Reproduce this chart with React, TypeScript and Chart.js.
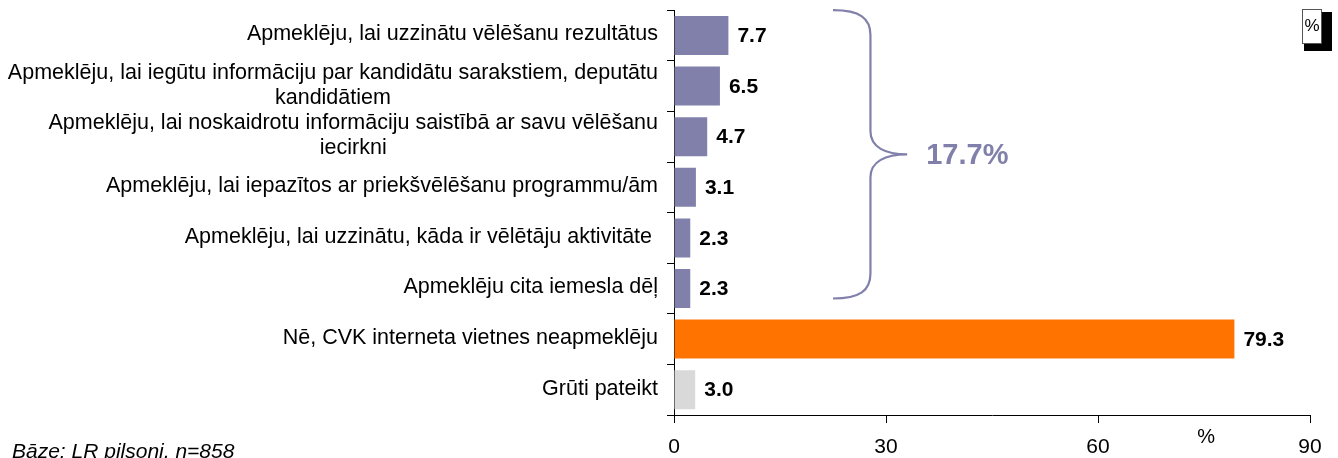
import React, { useEffect, useRef } from "react";
import { Chart, registerables } from "chart.js";

Chart.register(...registerables);

const categories: string[][] = [
  ["Apmeklēju, lai uzzinātu vēlēšanu rezultātus"],
  ["Apmeklēju, lai iegūtu informāciju par kandidātu sarakstiem, deputātu", "kandidātiem"],
  ["Apmeklēju, lai noskaidrotu informāciju saistībā ar savu vēlēšanu", "iecirkni"],
  ["Apmeklēju, lai iepazītos ar priekšvēlēšanu programmu/ām"],
  ["Apmeklēju, lai uzzinātu, kāda ir vēlētāju aktivitāte "],
  ["Apmeklēju cita iemesla dēļ"],
  ["Nē, CVK interneta vietnes neapmeklēju"],
  ["Grūti pateikt"],
];
const values: number[] = [7.7, 6.5, 4.7, 3.1, 2.3, 2.3, 79.3, 3.0];
const barColors: string[] = [
  "#8080ab", "#8080ab", "#8080ab", "#8080ab", "#8080ab", "#8080ab", "#ff7300", "#d9d9d9",
];
const xMin = 0;
const xMax = 90;
const xStep = 30;
const groupLabel = "17.7%";
const groupLast = 5;
const axisUnit = "%";
const baseNote = "Bāze: LR pilsoņi, n=858";

const FONT = "'Liberation Sans', Arial, Helvetica, sans-serif";
const PURPLE = "#8080ab";

const overlayPlugin = {
  id: "overlay",
  afterDatasetsDraw(chart: any) {
    const ctx = chart.ctx as CanvasRenderingContext2D;
    const xs = chart.scales.x;
    const ys = chart.scales.y;
    const area = chart.chartArea;
    ctx.save();
    // value labels
    const meta = chart.getDatasetMeta(0);
    ctx.font = `bold 21px ${FONT}`;
    ctx.fillStyle = "#000";
    ctx.textAlign = "left";
    ctx.textBaseline = "middle";
    meta.data.forEach((bar: any, i: number) => {
      ctx.fillText(values[i].toFixed(1), bar.x + 9, bar.y + 1);
    });
    // category labels (block right-aligned, lines centered)
    ctx.font = `21.5px ${FONT}`;
    ctx.textAlign = "center";
    const right = area.left - 16;
    const lh = 25;
    categories.forEach((lines, i) => {
      const cy = ys.getPixelForValue(i) - 1;
      const maxW = Math.max(...lines.map((l) => ctx.measureText(l).width));
      const cx = right - maxW / 2;
      const y0 = cy - ((lines.length - 1) * lh) / 2;
      lines.forEach((l, j) => ctx.fillText(l, cx, y0 + j * lh));
    });
    // brace
    const top = area.top;
    const bot = ys.getPixelForValue(groupLast) + 10;
    const mid = (top + bot) / 2;
    const xa = xs.getPixelForValue(22.5);
    const xb = xs.getPixelForValue(27.8);
    const xc = xs.getPixelForValue(33.0);
    ctx.strokeStyle = PURPLE;
    ctx.lineWidth = 2.2;
    ctx.beginPath();
    ctx.moveTo(xa, top);
    ctx.bezierCurveTo(xa + 27, top, xb, top + 8, xb, top + 25);
    ctx.lineTo(xb, mid - 23);
    ctx.bezierCurveTo(xb, mid - 7, xb + 15, mid, xc, mid);
    ctx.bezierCurveTo(xb + 15, mid, xb, mid + 7, xb, mid + 23);
    ctx.lineTo(xb, bot - 25);
    ctx.bezierCurveTo(xb, bot - 8, xa + 27, bot, xa, bot);
    ctx.stroke();
    ctx.font = `bold 29px ${FONT}`;
    ctx.fillStyle = PURPLE;
    ctx.textAlign = "left";
    ctx.textBaseline = "middle";
    ctx.fillText(groupLabel, xc + 19, mid + 2);
    // axis unit
    ctx.font = `20px ${FONT}`;
    ctx.fillStyle = "#000";
    ctx.textAlign = "center";
    ctx.fillText(axisUnit, xs.getPixelForValue(75.3), area.bottom + 22);
    // base note
    ctx.font = `italic 21px ${FONT}`;
    ctx.textAlign = "left";
    ctx.textBaseline = "alphabetic";
    ctx.fillText(baseNote, 12, chart.height);
    // % box top-right
    ctx.fillStyle = "#000";
    ctx.fillRect(1304, 12, 28, 39);
    ctx.fillStyle = "#fff";
    ctx.fillRect(1302, 9, 20, 35);
    ctx.strokeStyle = "#555";
    ctx.lineWidth = 1;
    ctx.strokeRect(1302.5, 9.5, 19, 34);
    ctx.fillStyle = "#000";
    ctx.font = `17px ${FONT}`;
    ctx.textAlign = "center";
    ctx.textBaseline = "middle";
    ctx.fillText(axisUnit, 1312, 26);
    ctx.restore();
  },
};

export default function App() {
  const ref = useRef<HTMLCanvasElement | null>(null);
  useEffect(() => {
    if (!ref.current) return;
    const chart = new Chart(ref.current, {
      type: "bar",
      data: {
        labels: categories,
        datasets: [
          {
            data: values,
            backgroundColor: barColors,
            borderWidth: 0,
            barPercentage: 0.77,
            categoryPercentage: 1,
          },
        ],
      },
      options: {
        indexAxis: "y",
        responsive: false,
        animation: false,
        events: [],
        layout: { padding: { left: 0, right: 28, top: 10, bottom: 0 } },
        plugins: { legend: { display: false }, tooltip: { enabled: false } },
        scales: {
          x: {
            type: "linear",
            min: xMin,
            max: xMax,
            ticks: {
              stepSize: xStep,
              color: "#000",
              font: { family: FONT, size: 21 },
              padding: 12,
            },
            grid: { drawOnChartArea: false, drawTicks: true, tickLength: 8, color: "#000" },
            border: { display: true, color: "#000", width: 1 },
            afterFit: (s: any) => {
              s.height = 43;
            },
          },
          y: {
            type: "category",
            ticks: { callback: () => "" },
            grid: { offset: true, drawOnChartArea: false, drawTicks: true, tickLength: 7, color: "#000" },
            border: { display: true, color: "#000", width: 1 },
            afterFit: (s: any) => {
              s.width = 674;
            },
          },
        },
      } as any,
      plugins: [overlayPlugin],
    });
    return () => chart.destroy();
  }, []);
  return (
    <div style={{ position: "absolute", left: 0, top: 0, width: 1338, height: 458, background: "#fff" }}>
      <canvas ref={ref} width={1338} height={458} style={{ display: "block", width: 1338, height: 458 }} />
    </div>
  );
}
